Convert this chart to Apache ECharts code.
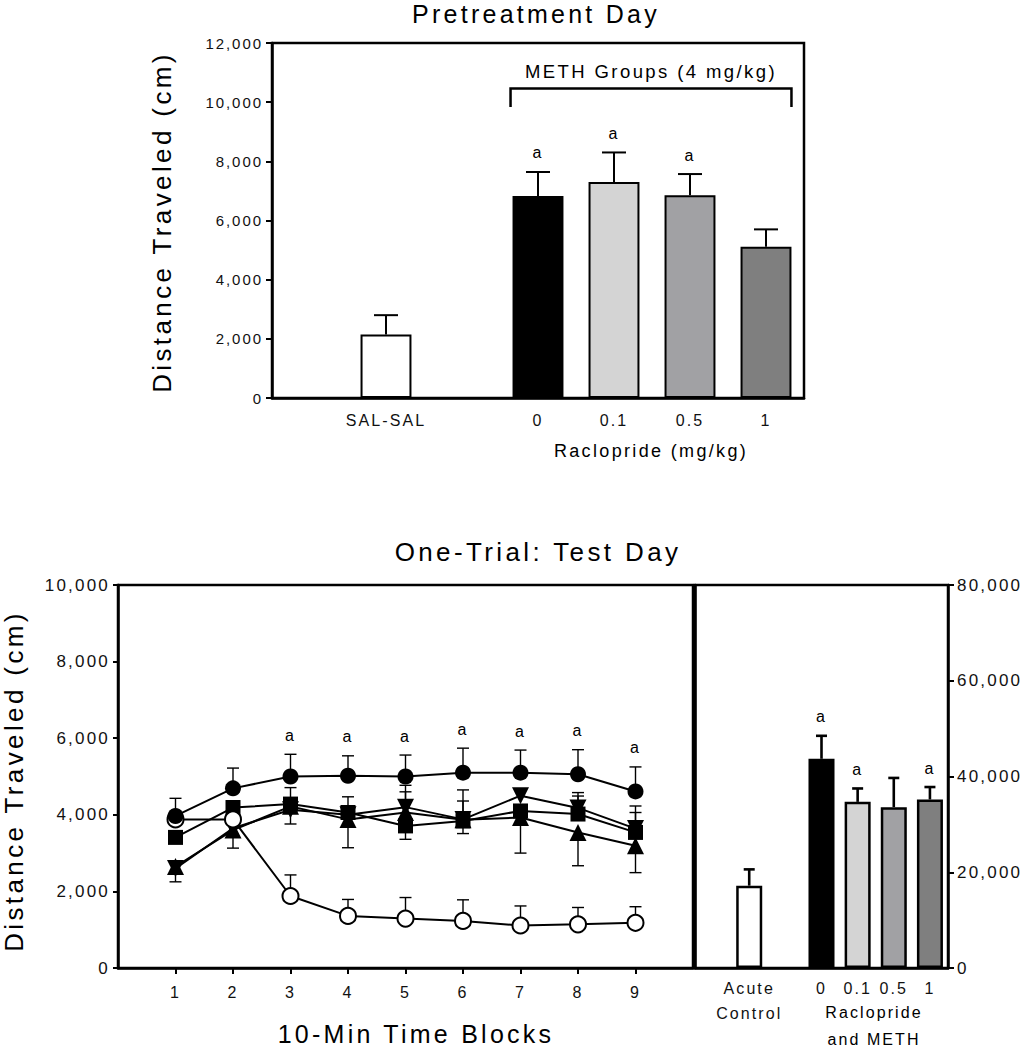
<!DOCTYPE html>
<html>
<head>
<meta charset="utf-8">
<script src="https://cdn.jsdelivr.net/npm/echarts@6/dist/echarts.min.js"></script>
<style>
html, body { margin: 0; padding: 0; background: #fff; }
#chart { width: 1024px; height: 1050px; }
#chart text { letter-spacing: 0.13em; }
</style>
</head>
<body>
<div id="chart"></div>
<script>
// ---------------- Top panel: Pretreatment Day ----------------
const preCategories = ['', 'SAL-SAL', '', '0', '0.1', '0.5', '1'];
const preMeans = [null, 2150, null, 6830, 7300, 6850, 5110];
const preSEM   = [null, 650, null, 810, 1000, 720, 590];
const preSig   = ['', '', '', 'a', 'a', 'a', ''];
const preYTicks = [0, 2000, 4000, 6000, 8000, 10000, 12000];
const methBracketSpan = [3, 6];          // category indices of first/last METH group
const methBracketLevels = [10460, 9840]; // bracket bar level, bracket end level

// ---------------- Bottom left: One-Trial Test Day time course ----------------
const timeBlocks = [1, 2, 3, 4, 5, 6, 7, 8, 9];
const salSal    = [3880, 3880, 1880, 1360, 1290, 1230, 1110, 1140, 1180];
const salSalSEM = [150, 150, 550, 430, 550, 550, 510, 440, 420];
const meth0     = [3970, 4690, 5000, 5020, 5000, 5100, 5100, 5060, 4610];
const meth0SEM  = [460, 530, 580, 520, 560, 640, 590, 640, 640];
const meth01    = [3410, 4190, 4280, 4060, 3710, 3840, 4100, 4020, 3540];
const meth01SEM = [150, 150, 430, 410, 890, 520, 150, 470, 520];
const meth05    = [2600, 3650, 4130, 4000, 4200, 3880, 4500, 4180, 3640];
const meth05SEM = [150, 150, 150, 150, 570, 770, 150, 400, 590];
const meth1     = [2650, 3600, 4220, 3880, 4060, 3870, 3930, 3540, 3190];
const meth1SEM  = [400, 470, 460, 740, 700, 360, 930, 870, 700];
const timeSig   = ['', '', 'a', 'a', 'a', 'a', 'a', 'a', 'a'];
const timeYTicks = [0, 2000, 4000, 6000, 8000, 10000];

// ---------------- Bottom right: total distance ----------------
const totCategories = ['', 'Acute\nControl', '', '0', '0.1', '0.5', '1'];
const totMeans = [null, 17200, null, 43700, 34700, 33600, 35200];
const totSEM   = [null, 3400, null, 4800, 2800, 6100, 2600];
const totSig   = ['', '', '', 'a', 'a', '', 'a'];
const totYTicks = [0, 20000, 40000, 60000, 80000];

// ---------------- styles ----------------
const FONT = '"Liberation Sans", Arial, Helvetica, sans-serif';
const barPalette = ['#ffffff', '#ffffff', '#ffffff', '#000000', '#d4d4d4', '#a1a1a4', '#7f7f7f'];
const fmt = v => Number(v).toLocaleString('en-US');

function errRenderer(capHalf, lw, sigList) {
  return function (params, api) {
    const x = api.value(0), m = api.value(1), e = api.value(2);
    const p0 = api.coord([x, m]);
    const p1 = api.coord([x, e]);
    const children = [
      { type: 'line', shape: { x1: p0[0], y1: p0[1], x2: p1[0], y2: p1[1] }, style: { stroke: '#000', lineWidth: lw } },
      { type: 'line', shape: { x1: p1[0] - capHalf, y1: p1[1], x2: p1[0] + capHalf, y2: p1[1] }, style: { stroke: '#000', lineWidth: lw } }
    ];
    const s = sigList ? sigList[params.dataIndex] : '';
    if (s) {
      children.push({ type: 'text', x: p1[0], y: p1[1] - 19,
        style: { text: s, fill: '#000', fontSize: 16, fontFamily: FONT, align: 'center', verticalAlign: 'middle' } });
    }
    return { type: 'group', children };
  };
}

function barErrData(means, sems, sigs) {
  const data = [], sig = [];
  means.forEach((m, i) => { if (m != null) { data.push([i, m, m + sems[i]]); sig.push(sigs[i]); } });
  return { data, sig };
}
function lineErrData(means, sems, dir) {
  return means.map((m, i) => [timeBlocks[i], m, m + dir * sems[i]]);
}
function barData(means) {
  return means.map((v, i) => v == null ? '-' : { value: v, itemStyle: { color: barPalette[i] } });
}

const preErr = barErrData(preMeans, preSEM, preSig);
const totErr = barErrData(totMeans, totSEM, totSig);

const axisLineStyle = { color: '#000', width: 2.5 };
const tickLabel = (size) => ({ color: '#111', fontSize: size, fontFamily: FONT });

const option = {
  backgroundColor: '#fff',
  animation: false,
  grid: [
    { left: 272, top: 43, width: 532, height: 355, show: true, borderColor: '#000', borderWidth: 2.5, backgroundColor: 'transparent' },
    { left: 118, top: 585, width: 575, height: 383, show: true, borderColor: '#000', borderWidth: 2.5, backgroundColor: 'transparent' },
    { left: 695, top: 585, width: 253, height: 383, show: true, borderColor: '#000', borderWidth: 2.5, backgroundColor: 'transparent' }
  ],
  xAxis: [
    { gridIndex: 0, type: 'category', data: preCategories,
      axisLine: { lineStyle: axisLineStyle }, axisTick: { show: false },
      axisLabel: Object.assign(tickLabel(16), { margin: 14, interval: 0 }) },
    { gridIndex: 1, type: 'value', min: 0, max: 10, interval: 1,
      splitLine: { show: false },
      axisLine: { lineStyle: axisLineStyle },
      axisTick: { length: 6, lineStyle: { width: 2, color: '#000' }, customValues: timeBlocks },
      axisLabel: Object.assign(tickLabel(16), { margin: 16, customValues: timeBlocks }) },
    { gridIndex: 2, type: 'category', data: totCategories,
      axisLine: { lineStyle: axisLineStyle }, axisTick: { show: false },
      axisLabel: Object.assign(tickLabel(16), { margin: 8, interval: 0, lineHeight: 25 }) }
  ],
  yAxis: [
    { gridIndex: 0, type: 'value', min: preYTicks[0], max: preYTicks[preYTicks.length - 1], interval: preYTicks[1] - preYTicks[0],
      splitLine: { show: false },
      axisLine: { show: true, lineStyle: axisLineStyle },
      axisTick: { show: true, length: 6, lineStyle: { width: 2, color: '#000' } },
      axisLabel: Object.assign(tickLabel(15), { margin: 9, formatter: fmt }) },
    { gridIndex: 1, type: 'value', min: timeYTicks[0], max: timeYTicks[timeYTicks.length - 1], interval: timeYTicks[1] - timeYTicks[0],
      splitLine: { show: false },
      axisLine: { show: true, lineStyle: axisLineStyle },
      axisTick: { show: true, length: 5, lineStyle: { width: 2, color: '#000' } },
      axisLabel: Object.assign(tickLabel(17), { margin: 8, formatter: fmt }) },
    { gridIndex: 2, type: 'value', position: 'right', min: totYTicks[0], max: totYTicks[totYTicks.length - 1], interval: totYTicks[1] - totYTicks[0],
      splitLine: { show: false },
      axisLine: { show: true, lineStyle: axisLineStyle },
      axisTick: { show: true, length: 6, lineStyle: { width: 2, color: '#000' } },
      axisLabel: Object.assign(tickLabel(17), { margin: 9, formatter: fmt }) },
    { gridIndex: 2, type: 'value', position: 'left', min: totYTicks[0], max: totYTicks[totYTicks.length - 1], interval: totYTicks[totYTicks.length - 1],
      splitLine: { show: false },
      axisLine: { show: true, lineStyle: axisLineStyle },
      axisTick: { show: true, length: 5, lineStyle: { width: 2, color: '#000' } },
      axisLabel: { show: false } }
  ],
  series: [
    // ---- top panel ----
    { type: 'custom', name: 'pre-err', xAxisIndex: 0, yAxisIndex: 0, z: 1,
      data: preErr.data, renderItem: errRenderer(12, 2, preErr.sig) },
    { type: 'bar', name: 'Pretreatment', xAxisIndex: 0, yAxisIndex: 0, z: 2,
      barWidth: '67%', data: barData(preMeans),
      itemStyle: { borderColor: '#000', borderWidth: 2 } },
    { type: 'custom', name: 'meth-bracket', xAxisIndex: 0, yAxisIndex: 0, z: 3,
      data: [[methBracketSpan[0], methBracketSpan[1], methBracketLevels[0], methBracketLevels[1]]],
      renderItem: function (params, api) {
        const hw = api.size([1, 0])[0] * 0.67 / 2;
        const a = api.coord([api.value(0), api.value(2)]);
        const b = api.coord([api.value(1), api.value(2)]);
        const d = api.coord([api.value(0), api.value(3)]);
        const xl = a[0] - hw - 2, xr = b[0] + hw;
        return { type: 'group', children: [
          { type: 'polyline', shape: { points: [[xl, d[1]], [xl, a[1]], [xr, a[1]], [xr, d[1]]] },
            style: { stroke: '#000', lineWidth: 2.5, fill: null } },
          { type: 'text', x: (xl + xr) / 2, y: a[1] - 17,
            style: { text: 'METH Groups (4 mg/kg)', fill: '#000', fontSize: 18.5, fontFamily: FONT, align: 'center', verticalAlign: 'middle' } }
        ] };
      } },
    // ---- bottom left: time course ----
    { type: 'custom', name: 'err-sal', xAxisIndex: 1, yAxisIndex: 1, z: 1, data: lineErrData(salSal, salSalSEM, 1), renderItem: errRenderer(6, 1.4, null) },
    { type: 'custom', name: 'err-m0', xAxisIndex: 1, yAxisIndex: 1, z: 1, data: lineErrData(meth0, meth0SEM, 1), renderItem: errRenderer(6, 1.4, timeSig) },
    { type: 'custom', name: 'err-m01', xAxisIndex: 1, yAxisIndex: 1, z: 1, data: lineErrData(meth01, meth01SEM, 1), renderItem: errRenderer(6, 1.4, null) },
    { type: 'custom', name: 'err-m05', xAxisIndex: 1, yAxisIndex: 1, z: 1, data: lineErrData(meth05, meth05SEM, 1), renderItem: errRenderer(6, 1.4, null) },
    { type: 'custom', name: 'err-m1', xAxisIndex: 1, yAxisIndex: 1, z: 1, data: lineErrData(meth1, meth1SEM, -1), renderItem: errRenderer(6, 1.4, null) },
    { type: 'line', name: 'METH 0.1', xAxisIndex: 1, yAxisIndex: 1, z: 2,
      data: meth01.map((v, i) => [timeBlocks[i], v]),
      symbol: 'rect', symbolSize: 15, lineStyle: { color: '#000', width: 2 },
      itemStyle: { color: '#000', borderColor: '#000', borderWidth: 0 } },
    { type: 'line', name: 'METH 1', xAxisIndex: 1, yAxisIndex: 1, z: 2,
      data: meth1.map((v, i) => [timeBlocks[i], v]),
      symbol: 'triangle', symbolSize: 17, lineStyle: { color: '#000', width: 2 },
      itemStyle: { color: '#000', borderColor: '#000', borderWidth: 0 } },
    { type: 'line', name: 'METH 0.5', xAxisIndex: 1, yAxisIndex: 1, z: 2,
      data: meth05.map((v, i) => [timeBlocks[i], v]),
      symbol: 'triangle', symbolRotate: 180, symbolSize: 17, lineStyle: { color: '#000', width: 2 },
      itemStyle: { color: '#000', borderColor: '#000', borderWidth: 0 } },
    { type: 'line', name: 'SAL-SAL', xAxisIndex: 1, yAxisIndex: 1, z: 2,
      data: salSal.map((v, i) => [timeBlocks[i], v]),
      symbol: 'circle', symbolSize: 16, lineStyle: { color: '#000', width: 2 },
      itemStyle: { color: '#fff', borderColor: '#000', borderWidth: 2 } },
    { type: 'line', name: 'METH 0', xAxisIndex: 1, yAxisIndex: 1, z: 2,
      data: meth0.map((v, i) => [timeBlocks[i], v]),
      symbol: 'circle', symbolSize: 16, lineStyle: { color: '#000', width: 2 },
      itemStyle: { color: '#000', borderColor: '#000', borderWidth: 0 } },
    // ---- bottom right: totals ----
    { type: 'custom', name: 'tot-err', xAxisIndex: 2, yAxisIndex: 2, z: 1,
      data: totErr.data, renderItem: errRenderer(5.5, 2.6, totErr.sig) },
    { type: 'bar', name: 'Total', xAxisIndex: 2, yAxisIndex: 2, z: 2,
      barWidth: '72%', data: barData(totMeans),
      itemStyle: { borderColor: '#000', borderWidth: 2.5 } }
  ],
  graphic: [
    { type: 'text', x: 536, y: 14, style: { text: 'Pretreatment Day', fill: '#000', fontSize: 25, fontFamily: FONT, align: 'center', verticalAlign: 'middle' } },
    { type: 'text', x: 162, y: 222, rotation: Math.PI / 2, style: { text: 'Distance Traveled (cm)', fill: '#000', fontSize: 26, fontFamily: FONT, align: 'center', verticalAlign: 'middle' } },
    { type: 'text', x: 651, y: 451, style: { text: 'Raclopride (mg/kg)', fill: '#000', fontSize: 18, fontFamily: FONT, align: 'center', verticalAlign: 'middle' } },
    { type: 'text', x: 538, y: 552, style: { text: 'One-Trial: Test Day', fill: '#000', fontSize: 26, fontFamily: FONT, align: 'center', verticalAlign: 'middle' } },
    { type: 'text', x: 14, y: 781, rotation: Math.PI / 2, style: { text: 'Distance Traveled (cm)', fill: '#000', fontSize: 26, fontFamily: FONT, align: 'center', verticalAlign: 'middle' } },
    { type: 'text', x: 416, y: 1034, style: { text: '10-Min Time Blocks', fill: '#000', fontSize: 25, fontFamily: FONT, align: 'center', verticalAlign: 'middle' } },
    { type: 'text', x: 874, y: 1026, style: { text: 'Raclopride\nand METH', fill: '#000', fontSize: 16, lineHeight: 27, fontFamily: FONT, align: 'center', verticalAlign: 'middle' } }
  ]
};

const chart = echarts.init(document.getElementById('chart'), null, { renderer: 'svg' });
chart.setOption(option);
</script>
</body>
</html>
